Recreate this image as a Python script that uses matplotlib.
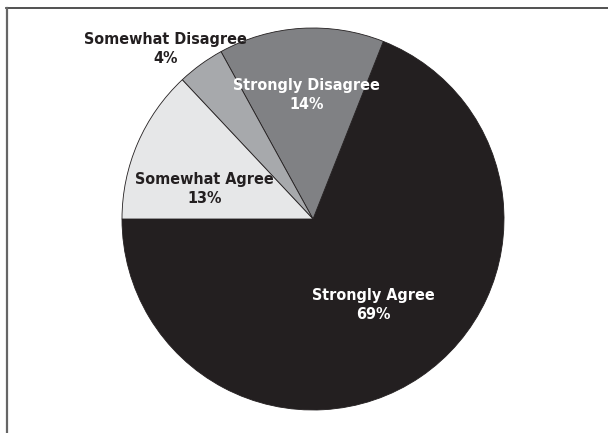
import matplotlib.pyplot as plt
import numpy as np

labels = ['Strongly Agree', 'Strongly Disagree', 'Somewhat Disagree', 'Somewhat Agree']
values = [69, 14, 4, 13]
colors = ['#231f20', '#808184', '#a7a9ac', '#e6e7e8']
text_colors = ['white', 'white', '#231f20', '#231f20']
# (radial fraction, angle shift in degrees) for each label
label_pos = [(0.55, 1), (0.65, -0.5), (1.18, 5), (0.59, 8)]

plt.rcParams['font.family'] = ['DejaVu Sans']
plt.rcParams['font.stretch'] = 'condensed'

fig = plt.figure(figsize=(6.08, 4.33), dpi=100)
ax = fig.add_axes([0, 0, 1, 1])

cx, cy, r = 313, 214, 191
wedges, _ = ax.pie(values, colors=colors, startangle=180, counterclock=True,
                   center=(cx, cy), radius=r, frame=True,
                   wedgeprops=dict(edgecolor='#231f20', linewidth=0.6))
ax.set_xlim(0, 608)
ax.set_ylim(0, 433)
ax.set_aspect('equal')
ax.axis('off')

for w, lab, v, tc, (d, shift) in zip(wedges, labels, values, text_colors, label_pos):
    mid = np.deg2rad((w.theta1 + w.theta2) / 2 + shift)
    x = cx + d * r * np.cos(mid)
    y = cy + d * r * np.sin(mid)
    ax.text(x, y, f'{lab}\n{v}%', ha='center', va='center', color=tc,
            fontsize=11.5, fontweight='bold', linespacing=1.3)

# frame lines on the top and left
fig.add_artist(plt.Line2D([6 / 608, 1], [1 - 7.5 / 433, 1 - 7.5 / 433], color='#333333', lw=1.2))
fig.add_artist(plt.Line2D([6.5 / 608, 6.5 / 608], [0, 1 - 7.5 / 433], color='#666666', lw=1.6))

fig.savefig('out.png', dpi=100)
